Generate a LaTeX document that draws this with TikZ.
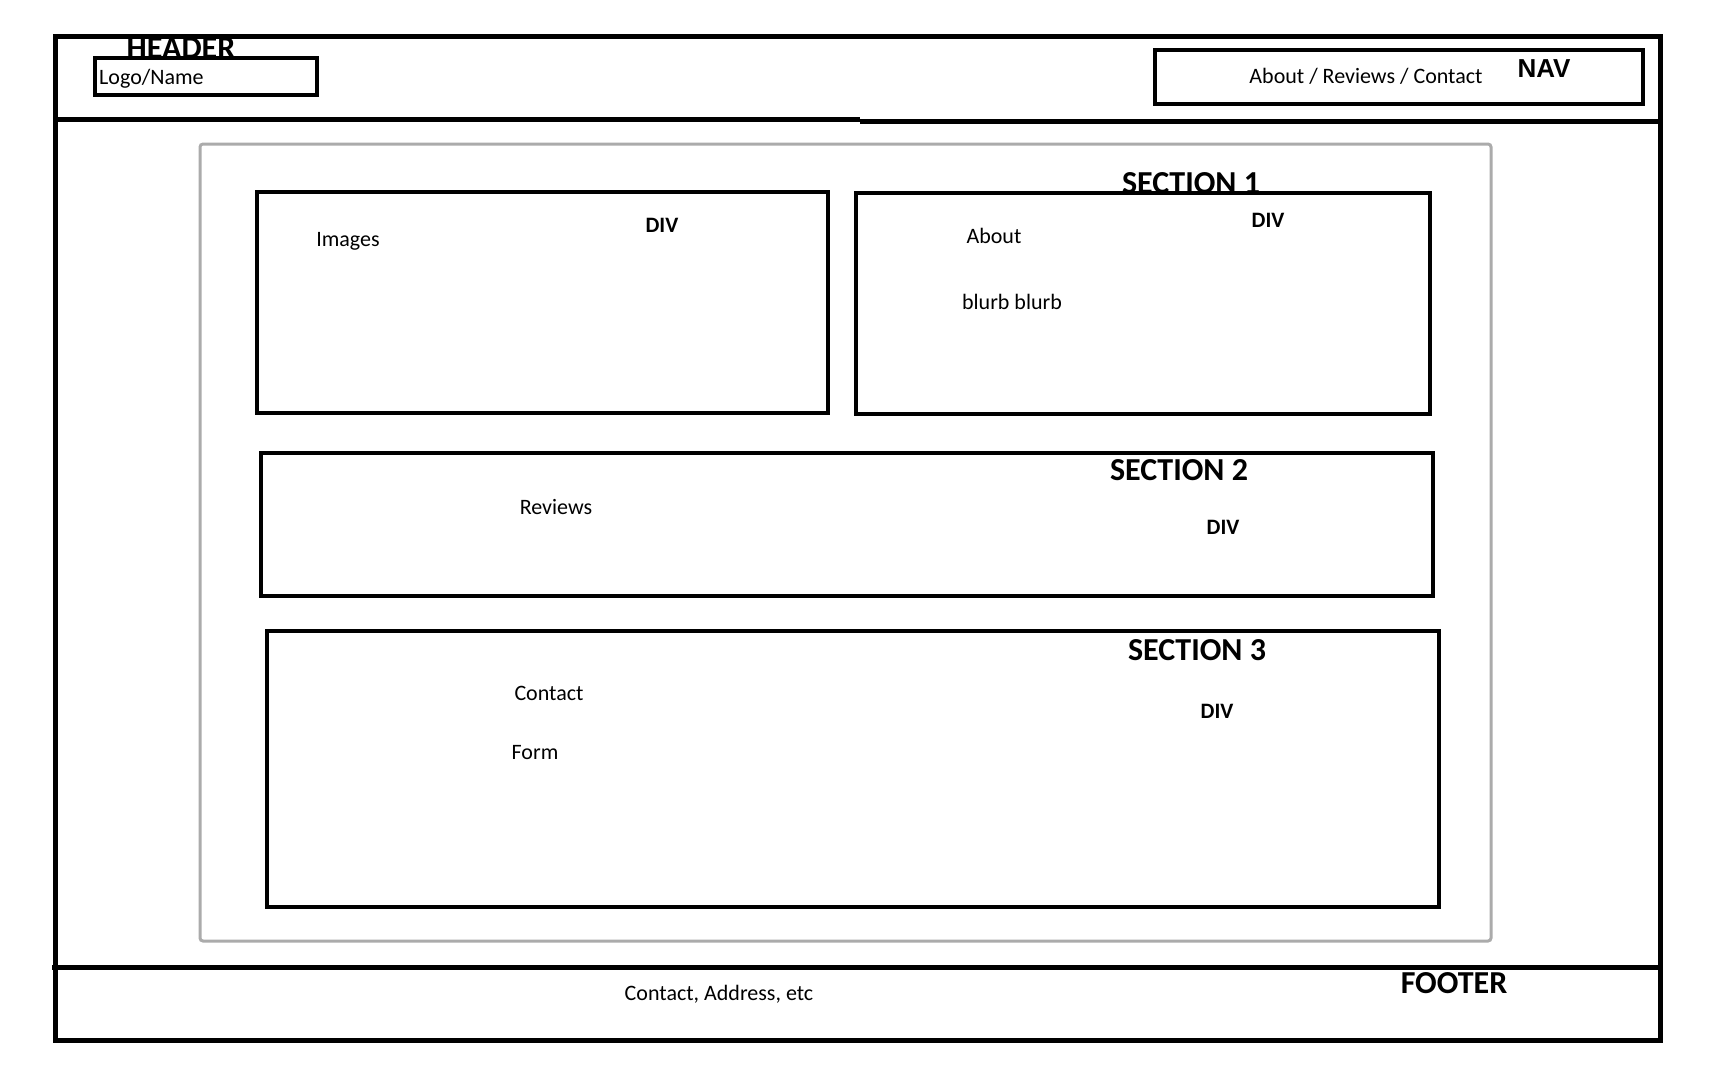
\documentclass[tikz,border=0pt]{standalone}
\usepackage{fontspec}
\setmainfont{Carlito}
\newfontfamily\navfont{Liberation Sans}
\usepackage{tikz}
\usetikzlibrary{positioning}

\tikzset{
    box/.style={draw=black, line width=4.6pt},
    pagebox/.style={draw=black, line width=5pt},
    wrapbox/.style={draw=black!33, line width=3pt, rounded corners=3pt},
    txt/.style={anchor=base, inner sep=0pt, font=\fontsize{22}{26}\selectfont},
    bigtitle/.style={anchor=base, inner sep=0pt, font=\fontsize{32}{36}\selectfont\bfseries},
    divtag/.style={anchor=base, inner sep=0pt, font=\fontsize{22}{26}\selectfont\bfseries},
}

\begin{document}
\begin{tikzpicture}[x=1pt, y=-1pt]
    \useasboundingbox (0,0) rectangle (1728,1080);

    % Page
    \draw [pagebox] (55.5,36) rectangle (1660,1040);
    \draw [pagebox] (53,119) -- (860,119);
    \draw [pagebox] (860,121) -- (1663,121);
    \draw [pagebox] (52,967) -- (1663,967);

    % Header
    \node [bigtitle] (header) at (181,58) {HEADER};
    \draw [box, fill=white] (95,58) rectangle (317,95);
    \node [txt, anchor=base west] (logo) at (99,84) {Logo/Name};

    % Nav
    \draw [box] (1155,50) rectangle (1643,104);
    \node [txt] (navlinks) at (1366,83) {About / Reviews / Contact};
    \node [anchor=base, inner sep=0pt, font=\fontsize{26}{30}\navfont\bfseries] (nav) at (1544,77) {NAV};

    % Wrapper
    \draw [wrapbox] (200,144) rectangle (1491,941);

    % Section 1
    \node [bigtitle] (sec1) at (1191,193) {SECTION 1};
    \draw [box] (257,192) rectangle (828,413);
    \draw [box] (856,193) rectangle (1430,414);
    \node [txt] (images) at (348,246) {Images};
    \node [divtag] (div1a) at (662,232) {DIV};
    \node [txt] (about) at (994,243) {About};
    \node [txt] (blurb) at (1012,309) {blurb blurb};
    \node [divtag] (div1b) at (1268,227) {DIV};

    % Section 2
    \draw [box] (261,453) rectangle (1433,596);
    \node [bigtitle] (sec2) at (1179,480) {SECTION 2};
    \node [txt] (reviews) at (556,514) {Reviews};
    \node [divtag] (div2) at (1223,534) {DIV};

    % Section 3
    \draw [box] (267,631) rectangle (1439,907);
    \node [bigtitle] (sec3) at (1197,660) {SECTION 3};
    \node [txt] (contact) at (549,700) {Contact};
    \node [txt] (form) at (535,759) {Form};
    \node [divtag] (div3) at (1217,718) {DIV};

    % Footer
    \node [txt] (footinfo) at (719,1000) {Contact, Address, etc};
    \node [bigtitle] (footer) at (1454,993) {FOOTER};
\end{tikzpicture}
\end{document}
